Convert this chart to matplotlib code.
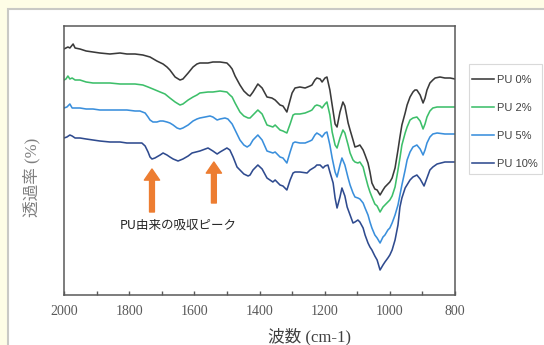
import matplotlib.pyplot as plt
from matplotlib.patches import Rectangle

# FT-IR spectra (transmittance in arbitrary units)
wn_0 = [2000, 1988, 1982, 1972, 1966, 1951, 1932, 1911, 1890, 1859, 1828, 1807, 1782, 1758, 1736,
        1715, 1696, 1684, 1675, 1659, 1644, 1635, 1619, 1604, 1592, 1583, 1558, 1543, 1521, 1500,
        1491, 1484, 1475, 1460, 1448, 1435, 1429, 1420, 1405, 1392, 1377, 1362, 1352, 1343, 1337,
        1328, 1316, 1306, 1300, 1291, 1276, 1260, 1245, 1239, 1230, 1224, 1214, 1208, 1199, 1193,
        1184, 1177, 1168, 1162, 1153, 1144, 1138, 1128, 1122, 1113, 1107, 1098, 1092, 1082, 1076,
        1067, 1061, 1055, 1046, 1039, 1030, 1021, 1015, 1006, 1000, 993, 984, 975, 969, 963,
        953, 947, 938, 929, 923, 917, 907, 898, 892, 886, 877, 868, 861, 846, 831, 815, 800]
t_0 = [246, 248, 247, 251, 247, 246, 244, 243, 242, 241, 242, 241, 241, 240, 238,
       234, 231, 228, 225, 218, 215, 216, 222, 228, 231, 232, 232, 233, 233, 232,
       229, 226, 219, 210, 204, 200, 199, 203, 211, 207, 198, 197, 195, 192, 190,
       189, 183, 195, 202, 207, 208, 207, 209, 210, 215, 217, 216, 213, 217, 218,
       205, 190, 171, 168, 183, 193, 189, 172, 165, 155, 148, 149, 150, 145, 140,
       132, 123, 112, 106, 105, 100, 105, 108, 111, 113, 117, 127, 145, 158, 170,
       182, 190, 198, 203, 205, 205, 200, 192, 197, 205, 212, 215, 217, 218, 217, 217, 216]

wn_2 = [2000, 1994, 1988, 1982, 1975, 1966, 1951, 1932, 1911, 1890, 1859, 1828, 1807, 1782, 1758,
        1742, 1727, 1705, 1690, 1675, 1659, 1644, 1635, 1619, 1604, 1592, 1583, 1558, 1543, 1521,
        1500, 1491, 1484, 1475, 1460, 1448, 1435, 1429, 1420, 1405, 1392, 1377, 1368, 1359, 1352,
        1343, 1337, 1328, 1316, 1306, 1297, 1291, 1276, 1260, 1245, 1239, 1230, 1224, 1214, 1208,
        1199, 1193, 1184, 1177, 1168, 1162, 1153, 1144, 1138, 1128, 1122, 1113, 1107, 1098, 1092,
        1082, 1076, 1067, 1061, 1055, 1046, 1039, 1030, 1021, 1015, 1006, 1000, 993, 984, 975,
        969, 963, 953, 947, 938, 929, 917, 907, 898, 892, 886, 877, 868, 855, 831, 815, 800]
t_2 = [215, 216, 219, 216, 217, 215, 215, 213, 212, 212, 212, 211, 211, 211, 210,
       208, 206, 203, 201, 197, 193, 190, 191, 195, 198, 200, 202, 203, 203, 204,
       203, 200, 198, 192, 183, 179, 177, 177, 180, 185, 181, 170, 169, 168, 170,
       167, 165, 164, 162, 171, 180, 181, 181, 182, 184, 185, 189, 190, 189, 187,
       191, 193, 180, 163, 150, 147, 157, 165, 162, 150, 142, 135, 133, 132, 133,
       128, 120, 109, 103, 98, 91, 89, 83, 88, 90, 93, 95, 99, 108, 125,
       137, 150, 162, 168, 175, 177, 178, 174, 166, 171, 178, 184, 187, 188, 188, 188, 188]

wn_5 = [2000, 1991, 1982, 1975, 1966, 1951, 1932, 1911, 1890, 1859, 1828, 1807, 1782, 1767, 1751,
        1742, 1736, 1727, 1715, 1705, 1696, 1684, 1675, 1665, 1653, 1644, 1635, 1619, 1604, 1592,
        1583, 1567, 1552, 1543, 1530, 1521, 1506, 1497, 1484, 1475, 1460, 1448, 1438, 1429, 1420,
        1405, 1392, 1377, 1368, 1359, 1352, 1343, 1337, 1328, 1316, 1306, 1297, 1291, 1276, 1260,
        1245, 1239, 1230, 1224, 1214, 1208, 1199, 1193, 1184, 1177, 1168, 1162, 1153, 1147, 1138,
        1128, 1122, 1113, 1107, 1098, 1092, 1082, 1076, 1067, 1061, 1055, 1046, 1039, 1030, 1021,
        1015, 1006, 1000, 993, 984, 975, 969, 963, 953, 947, 938, 929, 917, 907, 898,
        892, 886, 877, 868, 855, 831, 815, 800]
t_5 = [187, 188, 191, 187, 187, 187, 186, 186, 185, 185, 185, 185, 184, 184, 182,
       178, 175, 173, 173, 174, 174, 173, 172, 170, 167, 166, 167, 170, 174, 176,
       177, 178, 179, 178, 175, 176, 177, 176, 171, 165, 155, 150, 148, 150, 155,
       160, 155, 144, 143, 142, 143, 140, 138, 137, 132, 143, 152, 153, 152, 152,
       154, 155, 160, 162, 160, 158, 162, 163, 150, 137, 123, 118, 130, 137, 130,
       117, 110, 102, 98, 97, 96, 92, 87, 80, 73, 67, 60, 57, 52, 58,
       60, 65, 67, 72, 80, 90, 100, 110, 125, 135, 143, 148, 150, 146, 140,
       145, 152, 158, 161, 162, 161, 161, 161]

wn_10 = [2000, 1991, 1982, 1975, 1966, 1951, 1932, 1911, 1890, 1859, 1828, 1807, 1782, 1761, 1751,
         1742, 1736, 1730, 1721, 1705, 1696, 1684, 1675, 1665, 1650, 1635, 1619, 1607, 1583, 1558,
         1543, 1530, 1521, 1500, 1491, 1481, 1469, 1460, 1448, 1435, 1429, 1420, 1405, 1392, 1377,
         1368, 1359, 1352, 1343, 1337, 1328, 1316, 1306, 1297, 1291, 1276, 1254, 1245, 1230, 1224,
         1214, 1205, 1199, 1190, 1184, 1174, 1168, 1162, 1153, 1147, 1138, 1131, 1122, 1113, 1107,
         1098, 1092, 1082, 1076, 1067, 1061, 1055, 1046, 1039, 1030, 1021, 1015, 1006, 1000, 993,
         984, 975, 969, 963, 953, 938, 929, 917, 907, 895, 886, 877, 868, 855, 831, 815, 800]
t_10 = [157, 158, 160, 159, 157, 157, 156, 155, 154, 153, 153, 152, 152, 152, 149,
        143, 138, 136, 137, 140, 142, 140, 138, 136, 134, 136, 139, 142, 144, 147,
        144, 141, 143, 147, 145, 138, 128, 125, 121, 119, 120, 125, 130, 126, 117,
        115, 113, 115, 112, 110, 109, 105, 115, 122, 123, 123, 122, 125, 128, 130,
        130, 127, 129, 130, 123, 112, 97, 87, 98, 107, 99, 88, 80, 72, 73,
        75, 73, 67, 60, 52, 48, 45, 39, 35, 25, 30, 33, 37, 40, 45,
        55, 70, 88, 97, 107, 115, 118, 120, 116, 109, 117, 125, 128, 131, 133, 133, 133]

series = [(wn_0, t_0), (wn_2, t_2), (wn_5, t_5), (wn_10, t_10)]
labels = ['PU 0%', 'PU 2%', 'PU 5%', 'PU 10%']
colors = ['#3a3a3a', '#3dbf6a', '#3a8fdc', '#2f4b8f']

fig = plt.figure(figsize=(5.44, 3.45), dpi=100, facecolor='#fefde6')
# white panel with grey border (top/left edges visible)
fig.add_artist(Rectangle((8 / 544, -0.1), 1.2, 1.1 - 9 / 345, transform=fig.transFigure,
                         facecolor='white', edgecolor='#c9c9c5', linewidth=1.5, zorder=0))

ax = fig.add_axes([64 / 544, 50 / 345, 391 / 544, 269 / 345])
for (x, y), lab, c in zip(series, labels, colors):
    ax.plot(x, y, color=c, lw=1.15, label=lab)

ax.set_xlim(2000, 800)
ax.set_ylim(0, 269)
ax.set_xticks(range(2000, 799, -200))
ax.set_xticks(range(1900, 800, -200), minor=True)
ax.set_yticks([])
ax.tick_params(axis='x', which='both', direction='in', length=3, width=1,
               color='#595959', labelsize=10, labelcolor='#595959', pad=7)
for lbl in ax.get_xticklabels():
    lbl.set_fontfamily('Liberation Serif')
for s in ax.spines.values():
    s.set_color('#595959')
    s.set_linewidth(1.1)

# arrows marking the PU absorption peaks
orange = '#ed7d31'
for x, y0, y1 in [(1730, 83, 126), (1540, 92, 133)]:
    ax.annotate('', xy=(x, y1), xytext=(x, y0),
                arrowprops=dict(arrowstyle='simple,head_width=1.1,head_length=0.8,tail_width=0.35',
                                mutation_scale=10, color=orange, shrinkA=0, shrinkB=0))
ax.text(1830, 70, 'PU由来の吸収ピーク', fontsize=9, color='#262626', va='center', ha='left',
        family=['Noto Sans CJK JP', 'DejaVu Sans'])

fig.text(310 / 544, 1 - 337 / 345, '波数 (cm-1)', fontsize=12, color='#404040',
         ha='center', va='center', family=['Liberation Serif', 'Noto Sans CJK JP'])
fig.text(32 / 544, 1 - 177 / 345, '透過率 (%)', fontsize=12, color='#7f7f7f', rotation=90,
         ha='center', va='center', family=['Liberation Serif', 'Noto Sans CJK JP'])

# legend box drawn separately so the padding can differ from the row spacing
fig.add_artist(Rectangle((469 / 544, 1 - 174 / 345), 73 / 544, 110 / 345, transform=fig.transFigure,
                         facecolor='white', edgecolor='#d9d9d9', linewidth=0.8, zorder=1))
leg = fig.legend(loc='upper left', bbox_to_anchor=(470 / 544, 1 - 73 / 345), frameon=False,
                 borderaxespad=0, borderpad=0.2, labelspacing=1.6, handlelength=2.0,
                 handletextpad=0.2, prop={'family': 'Liberation Sans', 'size': 8})
for t in leg.get_texts():
    t.set_color('#404040')

fig.savefig('out.png', dpi=100, facecolor=fig.get_facecolor())
